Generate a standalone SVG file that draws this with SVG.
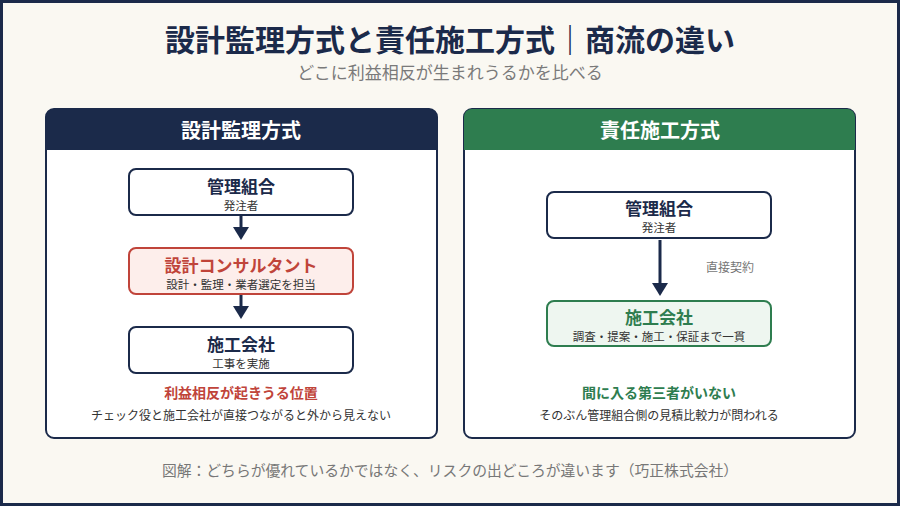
<svg xmlns="http://www.w3.org/2000/svg" width="900" height="506" viewBox="0 0 900 506">
<defs>
<style>
text{font-family:"Noto Sans CJK JP","Noto Sans",sans-serif;text-anchor:middle}
.title{font-size:30px;font-weight:700;fill:#1b2a4a}
.sub{font-size:17px;fill:#7a7a7a}
.hdr{font-size:20px;font-weight:700;fill:#ffffff}
.nt{font-size:17px;font-weight:700;fill:#1b2a4a}
.ns{font-size:11.5px;fill:#333}
.panel{fill:#ffffff;stroke:#1b2a4a;stroke-width:2}
.box{fill:#ffffff;stroke:#1b2a4a;stroke-width:2}
.note{font-size:12px;fill:#333}
.foot{font-size:14.8px;fill:#777}
.arr{fill:#1b2a4a}
.shaft{stroke:#1b2a4a;stroke-width:3}
</style>
</defs>
<rect x="1.5" y="1.5" width="897" height="503" fill="#faf8f2" stroke="#1b2a4a" stroke-width="3"/>
<text class="title" x="450" y="51">設計監理方式と責任施工方式｜商流の違い</text>
<text class="sub" x="450" y="79">どこに利益相反が生まれうるかを比べる</text>

<g id="panel-left">
<rect class="panel" x="46" y="109" width="391" height="329" rx="8"/>
<path d="M46,150 V117 A8,8 0 0 1 54,109 H429 A8,8 0 0 1 437,117 V150 Z" fill="#1b2a4a"/>
<text class="hdr" x="241" y="138">設計監理方式</text>
</g>
<g id="panel-right">
<rect class="panel" x="464" y="109" width="391" height="329" rx="8"/>
<path d="M464,150 V117 A8,8 0 0 1 472,109 H847 A8,8 0 0 1 855,117 V150 Z" fill="#2e7d4f"/>
<text class="hdr" x="660" y="138">責任施工方式</text>
</g>

<g id="connectors">
<line class="shaft" x1="241" y1="215" x2="241" y2="228"/>
<path class="arr" d="M233,227 L249,227 L241,240 Z"/>
<line class="shaft" x1="241" y1="294" x2="241" y2="307"/>
<path class="arr" d="M233,306 L249,306 L241,319 Z"/>
<line class="shaft" x1="660" y1="240" x2="660" y2="284"/>
<path class="arr" d="M652,283 L668,283 L660,296 Z"/>
<text x="730" y="272" style="font-size:12px;fill:#777">直接契約</text>
</g>

<g id="l-kanri">
<rect class="box" x="129" y="169" width="224" height="46" rx="7"/>
<text class="nt" x="241" y="193">管理組合</text>
<text class="ns" x="241" y="210">発注者</text>
</g>
<g id="l-consult">
<rect x="129" y="248" width="224" height="46" rx="7" fill="#fdeeeb" stroke="#c0443a" stroke-width="2"/>
<text class="nt" x="241" y="272" style="fill:#c0443a">設計コンサルタント</text>
<text class="ns" x="241" y="289">設計・監理・業者選定を担当</text>
</g>
<g id="l-sekou">
<rect class="box" x="129" y="327" width="224" height="46" rx="7"/>
<text class="nt" x="241" y="351">施工会社</text>
<text class="ns" x="241" y="368">工事を実施</text>
</g>
<g id="l-notes">
<text x="241" y="398" style="font-size:14px;font-weight:700;fill:#c0443a">利益相反が起きうる位置</text>
<text class="note" x="241" y="420">チェック役と施工会社が直接つながると外から見えない</text>
</g>

<g id="r-kanri">
<rect class="box" x="547" y="192" width="224" height="46" rx="7"/>
<text class="nt" x="659" y="215">管理組合</text>
<text class="ns" x="659" y="232">発注者</text>
</g>
<g id="r-sekou">
<rect x="547" y="301" width="224" height="45" rx="7" fill="#eef6f0" stroke="#2e7d4f" stroke-width="2"/>
<text class="nt" x="659" y="324" style="fill:#2e7d4f">施工会社</text>
<text class="ns" x="659" y="341">調査・提案・施工・保証まで一貫</text>
</g>
<g id="r-notes">
<text x="659" y="398" style="font-size:14px;font-weight:700;fill:#2e7d4f">間に入る第三者がいない</text>
<text class="note" x="659" y="420">そのぶん管理組合側の見積比較力が問われる</text>
</g>

<text class="foot" x="450" y="476">図解：どちらが優れているかではなく、リスクの出どころが違います（巧正株式会社）</text>
</svg>
